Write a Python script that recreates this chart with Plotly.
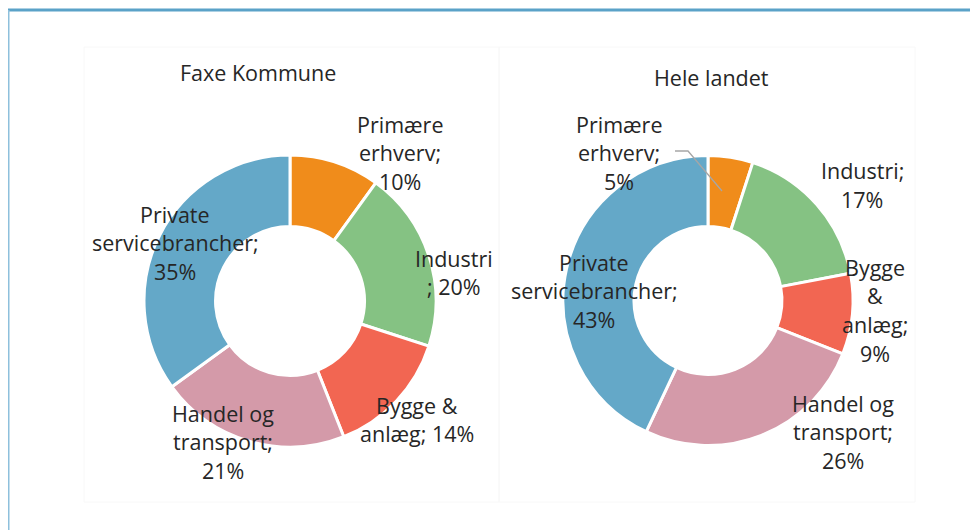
import plotly.graph_objects as go

# The page body has an 8px margin, so the figure is drawn 8px in and is 8px smaller.
OFF = 8
W, H = 978 - OFF, 530 - OFF

categories = ["Primære erhverv", "Industri", "Bygge & anlæg", "Handel og transport", "Private servicebrancher"]
faxe_values = [10, 20, 14, 21, 35]
land_values = [5, 17, 9, 26, 43]
colors = ["#F08C1B", "#85C283", "#F26652", "#D49AA9", "#64A8C8"]
panel_titles = ["Faxe Kommune", "Hele landet"]

# label line-splits (text only)
faxe_label_lines = [["Primære", "erhverv;", "10%"], ["Industri", "; 20%"], ["Bygge &", "anlæg; 14%"],
                    ["Handel og", "transport;", "21%"], ["Private", "servicebrancher;", "35%"]]
land_label_lines = [["Primære", "erhverv;", "5%"], ["Industri;", "17%"], ["Bygge", "&", "anlæg;", "9%"],
                    ["Handel og", "transport;", "26%"], ["Private", "servicebrancher;", "43%"]]

# label anchor positions in screen pixels (center of first line)
faxe_label_pos = [(400, 124), (454, 258), (417, 405), (223, 413), (175, 214)]
land_label_pos = [(619, 124), (862, 171), (875, 267), (843, 403), (594, 262)]
LINE_H = 28.8


def px(x):
    return (x - OFF) / W


def py(y):
    return 1 - (y - OFF) / H


def dom(cx, cy, r):
    return dict(x=[px(cx - r), px(cx + r)], y=[py(cy + r), py(cy - r)])


fig = go.Figure()
for vals, d in [(faxe_values, dom(290, 301, 146)), (land_values, dom(708, 300.5, 145))]:
    fig.add_trace(go.Pie(
        labels=categories, values=vals, hole=0.51, sort=False, direction="clockwise", rotation=0,
        marker=dict(colors=colors, line=dict(color="white", width=3)),
        textinfo="none", hoverinfo="label+percent", domain=d, showlegend=False,
    ))

shapes = []
# outer frame (light blue)
shapes.append(dict(type="line", xref="paper", yref="paper", x0=px(8), x1=px(990), y0=py(10), y1=py(10),
                   line=dict(color="#5AA2C8", width=3)))
shapes.append(dict(type="line", xref="paper", yref="paper", x0=px(8.5), x1=px(8.5), y0=py(10), y1=py(540),
                   line=dict(color="#8EC0DC", width=2)))
# faint chart-area boxes
for x0, x1 in [(84, 499), (499, 915)]:
    shapes.append(dict(type="rect", xref="paper", yref="paper", x0=px(x0), x1=px(x1), y0=py(502), y1=py(47),
                       line=dict(color="#F8F8F8", width=1)))
# leader line for small slice
shapes.append(dict(type="path", xref="paper", yref="paper",
                   path=f"M {px(675)} {py(151)} L {px(688)} {py(151)} L {px(722)} {py(191)}",
                   line=dict(color="#A6A6A6", width=1.3)))

annotations = []
FONT = dict(family="Open Sans", size=21.5, color="#262626")
for lines_list, pos_list in [(faxe_label_lines, faxe_label_pos), (land_label_lines, land_label_pos)]:
    for lines, (x, y) in zip(lines_list, pos_list):
        for i, t in enumerate(lines):
            annotations.append(dict(text=t, x=px(x), y=py(y + i * LINE_H), xref="paper", yref="paper",
                                    showarrow=False, xanchor="center", yanchor="middle", font=FONT))
for t, (x, y) in zip(panel_titles, [(258, 73), (711, 77)]):
    annotations.append(dict(text=t, x=px(x), y=py(y), xref="paper", yref="paper", showarrow=False,
                            xanchor="center", yanchor="middle", font=FONT))

fig.update_layout(width=W, height=H, margin=dict(l=0, r=0, t=0, b=0),
                  paper_bgcolor="white", plot_bgcolor="white",
                  shapes=shapes, annotations=annotations)
fig.write_html("out.html")
